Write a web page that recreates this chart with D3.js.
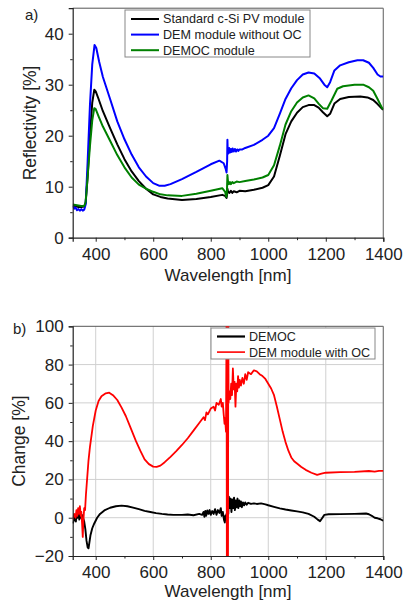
<!DOCTYPE html>
<html>
<head>
<meta charset="utf-8">
<script src="https://cdn.jsdelivr.net/npm/d3@7"></script>
<style>
html,body{margin:0;padding:0;background:#fff;}
svg{display:block;font-family:"Liberation Sans",Arial,sans-serif;}
</style>
</head>
<body>
<svg id="chart" width="408" height="601"></svg>
<script>
// ---------- DATA ----------
const xTicks = [400, 600, 800, 1000, 1200, 1400];
const xMinorTicks = [500, 700, 900, 1100, 1300];
const yTicksTop = [0, 10, 20, 30, 40];
const yMinorTop = [5, 15, 25, 35];
const yTicksBottom = [-20, 0, 20, 40, 60, 80, 100];
const yMinorBottom = [-10, 10, 30, 50, 70, 90];

const topLabels = ["Standard c-Si PV module", "DEM module without OC", "DEMOC module"];
const bottomLabels = ["DEMOC", "DEM module with OC"];

// Panel a) reflectivity [%] : [wavelength nm, value]
const standardModule = [[320,6.3],[330,6.2],[340,6.0],[350,6.0],[360,6.1],[365,6.8],[372,12],[380,20],[388,26.5],[395,29.0],[400,28.7],[410,27.2],[425,24.8],[450,21.5],[475,18.3],[500,15.4],[525,13.0],[550,11.1],[575,9.6],[600,8.5],[625,8.0],[650,7.7],[700,7.4],[750,7.6],[800,8.0],[840,8.4],[850,8.2],[855,7.8],[857,8.6],[858,9.6],[860,9.0],[865,8.8],[870,9.2],[875,8.8],[880,9.1],[890,8.9],[900,9.2],[920,9.1],[950,9.4],[980,9.8],[1000,10.3],[1020,12],[1040,16],[1060,20.3],[1080,22.8],[1100,24.5],[1120,25.6],[1140,26.0],[1160,26.0],[1175,25.5],[1190,24.6],[1205,23.8],[1215,24.3],[1230,26.3],[1250,27.2],[1280,27.6],[1320,27.7],[1345,27.5],[1365,27.0],[1380,26.2],[1395,25.3],[1400,25.1]];
const demWithoutOC = [[320,6.2],[325,5.7],[330,5.9],[335,5.4],[340,5.6],[345,5.3],[350,5.6],[355,5.3],[360,5.5],[365,6.5],[372,15],[380,26],[388,34],[396,37.8],[402,37.2],[412,34.5],[425,31.5],[450,27.2],[475,22.8],[500,19.3],[525,16.3],[550,13.8],[575,12.0],[600,10.7],[620,10.2],[640,10.2],[660,10.5],[700,11.5],[750,12.9],[800,14.4],[830,15.1],[845,14.6],[852,13.5],[855,12.8],[857,15],[858,19.2],[859,17],[861,16.5],[864,17.6],[867,16.7],[870,17.4],[873,16.8],[876,17.5],[880,16.9],[884,17.4],[888,16.9],[892,17.3],[896,17.0],[900,17.3],[910,17.3],[920,17.6],[950,18.2],[980,19.2],[1000,20.0],[1020,21.5],[1040,24.3],[1060,27.2],[1080,29.3],[1100,30.9],[1120,32.0],[1140,32.4],[1160,32.2],[1180,31.2],[1195,30.0],[1205,29.5],[1215,30.5],[1230,32.8],[1250,33.8],[1280,34.4],[1310,34.8],[1330,34.8],[1350,34.3],[1365,33.3],[1380,32.0],[1390,31.6],[1400,31.6]];
const democModule = [[320,6.5],[330,6.4],[340,6.3],[350,6.2],[360,6.2],[365,7],[372,12],[380,18],[388,23],[395,25.4],[400,25.2],[410,23.8],[425,21.8],[450,19.0],[475,16.2],[500,13.8],[525,11.8],[550,10.4],[575,9.6],[600,9.0],[625,8.5],[650,8.3],[700,8.2],[750,8.6],[800,9.2],[840,9.7],[850,9.0],[854,8.0],[856,8.5],[858,12.3],[860,11],[863,10.5],[867,10.9],[870,10.5],[875,10.9],[880,10.7],[890,11.0],[900,10.9],[920,11.1],[950,11.4],[980,11.8],[1000,12.3],[1020,14.2],[1040,18],[1060,22.2],[1080,24.8],[1100,26.5],[1120,27.5],[1140,27.9],[1160,27.3],[1175,26.3],[1190,25.4],[1205,25.3],[1220,26.9],[1240,29.2],[1260,29.7],[1300,30.0],[1330,30.0],[1350,29.5],[1365,28.8],[1380,27.2],[1395,25.5],[1400,25.2]];

// Panel b) change [%]
const democChange = [[320,-3],[325,-1],[328,1],[331,-2],[334,2],[337,0],[340,3],[343,-1],[346,2],[349,0],[352,1.5],[356,0],[360,-2],[364,-6],[368,-12],[372,-15.5],[375,-16],[378,-13],[382,-9],[388,-5.5],[395,-3],[405,0],[415,2],[430,3.8],[450,5.2],[470,6],[490,6.3],[510,6.0],[530,5.3],[550,4.5],[570,3.6],[590,3.0],[610,2.4],[630,2.0],[650,1.7],[670,1.5],[700,1.5],[720,1.7],[740,1.3],[760,2.0],[770,1.5],[775,3],[778,0.5],[781,3.5],[784,1],[788,3.8],[792,2],[796,4],[800,1.5],[805,3.5],[810,2],[815,4.5],[820,1.5],[825,4],[830,2.5],[835,5],[838,1],[842,3],[846,-1],[849,-2.5],[851,1],[853,-1],[855,2],[857,-1],[859,4],[861,2],[863,11],[866,5],[869,10],[872,3],[875,9.5],[878,5],[881,10.5],[884,4],[887,9],[890,5.5],[893,10],[896,5],[899,9],[902,6],[905,8.5],[908,5.5],[912,8],[916,6.5],[920,8],[925,6.8],[930,7.8],[940,7.2],[950,7.5],[960,7.2],[975,7.5],[990,7.0],[1000,6.5],[1020,5.7],[1040,4.9],[1060,4.3],[1080,3.8],[1100,3.3],[1120,2.8],[1140,2],[1160,0.5],[1172,-1],[1180,-1.8],[1186,-0.5],[1195,1.5],[1210,1.8],[1250,1.9],[1300,2.0],[1340,2.2],[1350,1.8],[1360,1],[1370,0],[1380,-0.3],[1390,-0.8],[1400,-1.6]];
const demWithOC = [[320,-1],[325,2],[330,0],[333,4],[336,1],[339,5],[342,2],[345,6],[348,1],[350,3],[353,-4],[355,-10],[357,-2],[360,5],[363,4],[366,12],[370,20],[375,30],[380,37],[390,48],[400,56],[410,61],[420,63.5],[435,65],[447,65.3],[460,64],[475,61.5],[490,57.5],[505,53],[520,47.5],[540,40],[555,35],[570,30.5],[585,28],[600,26.7],[612,26.6],[625,27.2],[640,29],[660,31.8],[680,34.8],[700,38],[720,41.5],[740,45.5],[760,49.5],[775,52.5],[780,51],[785,55],[790,54],[800,57],[810,58],[815,56],[820,60],[828,59],[835,62],[838,58],[842,60],[845,54],[848,49],[850,52],[853,45],[855,105],[856,-25],[857,105],[858,-25],[859,105],[860,-25],[861,105],[862,60],[865,66],[868,62],[871,70],[874,64],[877,78],[880,67],[883,71],[886,58],[889,70],[892,66],[895,74],[898,68],[901,72],[905,69],[910,73],[915,70],[920,75],[925,72],[930,76],[940,75],[950,77],[960,76.5],[970,75],[980,74],[990,72.5],[1000,70],[1010,67.5],[1020,64],[1030,58],[1040,51.5],[1050,45],[1060,39.5],[1070,35],[1080,31.5],[1090,29.5],[1100,28.3],[1115,26.5],[1130,25],[1150,23.5],[1170,22.4],[1185,23.0],[1200,23.5],[1250,23.8],[1300,24],[1350,24.4],[1370,24.1],[1385,24.5],[1400,24.5]];

// ---------- DRAW ----------
const svg = d3.select("#chart");
const FONT = 17;
const left = 72.7, right = 383.3;
const x = d3.scaleLinear().domain([320, 1400]).range([left, right]);

function panel(cfg) {
  const y = d3.scaleLinear().domain(cfg.yDomain).range([cfg.bottom, cfg.top]);
  const g = svg.append("g");
  const clipId = "clip" + cfg.id;
  svg.append("defs").append("clipPath").attr("id", clipId)
    .append("rect").attr("x", left).attr("y", cfg.top).attr("width", right - left).attr("height", cfg.bottom - cfg.top);

  if (cfg.grid) {
    g.append("g").selectAll("line").data(xTicks.filter(d => d < 1400)).join("line")
      .attr("x1", d => x(d)).attr("x2", d => x(d)).attr("y1", cfg.top).attr("y2", cfg.bottom)
      .attr("stroke", "#d0d0d0").attr("stroke-width", 1);
    g.append("g").selectAll("line").data(cfg.yTicks.filter(d => d > cfg.yDomain[0] && d < cfg.yDomain[1])).join("line")
      .attr("x1", left).attr("x2", right).attr("y1", d => y(d)).attr("y2", d => y(d))
      .attr("stroke", "#d0d0d0").attr("stroke-width", 1);
  }

  // frame top/right
  g.append("line").attr("x1", left).attr("x2", right).attr("y1", cfg.top).attr("y2", cfg.top).attr("stroke", "#555").attr("stroke-width", 1);
  g.append("line").attr("x1", right).attr("x2", right).attr("y1", cfg.top).attr("y2", cfg.bottom).attr("stroke", "#777").attr("stroke-width", 1.2);

  const line = d3.line().x(d => x(d[0])).y(d => y(d[1]));
  const lg = g.append("g").attr("clip-path", `url(#${clipId})`);
  cfg.series.forEach(s => {
    lg.append("path").datum(s.data).attr("d", line).attr("fill", "none")
      .attr("stroke", s.color).attr("stroke-width", s.width).attr("stroke-linejoin", "round");
  });

  // axes
  g.append("g").attr("transform", `translate(0,${cfg.bottom})`)
    .call(d3.axisBottom(x).tickValues(xTicks).tickSize(4).tickPadding(6).tickFormat(d3.format("d")));
  g.append("g").attr("transform", `translate(0,${cfg.bottom})`)
    .call(d3.axisBottom(x).tickValues(xMinorTicks).tickSize(2.5).tickFormat(""))
    .call(a => a.select(".domain").remove());
  g.append("g").attr("transform", `translate(${left},0)`)
    .call(d3.axisLeft(y).tickValues(cfg.yTicks).tickSize(4).tickPadding(5).tickFormat(d3.format("d")));
  g.append("g").attr("transform", `translate(${left},0)`)
    .call(d3.axisLeft(y).tickValues(cfg.yMinor).tickSize(2.5).tickFormat(""))
    .call(a => a.select(".domain").remove());
  g.selectAll(".tick text").attr("font-size", FONT).attr("fill", "#222").attr("font-family", "Liberation Sans, Arial, sans-serif");
  g.selectAll(".domain").attr("stroke", "#222").attr("stroke-width", 1.2);
  g.selectAll(".tick line").attr("stroke", "#222");

  // axis titles
  g.append("text").attr("x", (left + right) / 2).attr("y", cfg.xTitleY).attr("text-anchor", "middle")
    .attr("font-size", FONT).attr("fill", "#222").text("Wavelength [nm]");
  g.append("text").attr("transform", `translate(${cfg.yTitleX},${(cfg.top + cfg.bottom) / 2}) rotate(-90)`)
    .attr("text-anchor", "middle").attr("font-size", 17.5).attr("fill", "#222").text(cfg.yTitle);
  g.append("text").attr("x", cfg.tagX).attr("y", cfg.tagY).attr("font-size", 15).attr("fill", "#222").text(cfg.tag);

  // legend
  const L = cfg.legend;
  const leg = g.append("g");
  leg.append("rect").attr("x", L.x).attr("y", L.y).attr("width", L.w).attr("height", L.h)
    .attr("fill", "#fff").attr("stroke", "#888").attr("stroke-width", 1);
  cfg.series.forEach((s, i) => {
    const yy = L.y + L.first + i * L.step;
    leg.append("line").attr("x1", L.x + 6).attr("x2", L.x + 34).attr("y1", yy).attr("y2", yy)
      .attr("stroke", s.color).attr("stroke-width", s.legendWidth || s.width);
    leg.append("text").attr("x", L.x + 38).attr("y", yy).attr("dy", "0.35em")
      .attr("font-size", 12.6).attr("fill", "#222").text(s.label);
  });
}

panel({
  id: "a", top: 8.2, bottom: 237.7, yDomain: [0, 45], yTicks: yTicksTop, yMinor: yMinorTop,
  yTitle: "Reflectivity [%]", yTitleX: 36, xTitleY: 281, tag: "a)", tagX: 25, tagY: 20, grid: false,
  series: [
    {data: standardModule, color: "#000000", width: 2, label: topLabels[0]},
    {data: demWithoutOC, color: "#0000ff", width: 2, label: topLabels[1]},
    {data: democModule, color: "#008000", width: 2, label: topLabels[2]}
  ],
  legend: {x: 125, y: 10, w: 185, h: 47, first: 9, step: 15.6}
});

panel({
  id: "b", top: 326.3, bottom: 556, yDomain: [-20, 100], yTicks: yTicksBottom, yMinor: yMinorBottom,
  yTitle: "Change [%]", yTitleX: 25, xTitleY: 597, tag: "b)", tagX: 13, tagY: 334, grid: true,
  series: [
    {data: democChange, color: "#000000", width: 1.9, legendWidth: 2.2, label: bottomLabels[0]},
    {data: demWithOC, color: "#ff0000", width: 1.8, legendWidth: 1.6, label: bottomLabels[1]}
  ],
  legend: {x: 211, y: 328, w: 164, h: 31, first: 8.5, step: 15.6}
});
</script>
</body>
</html>
